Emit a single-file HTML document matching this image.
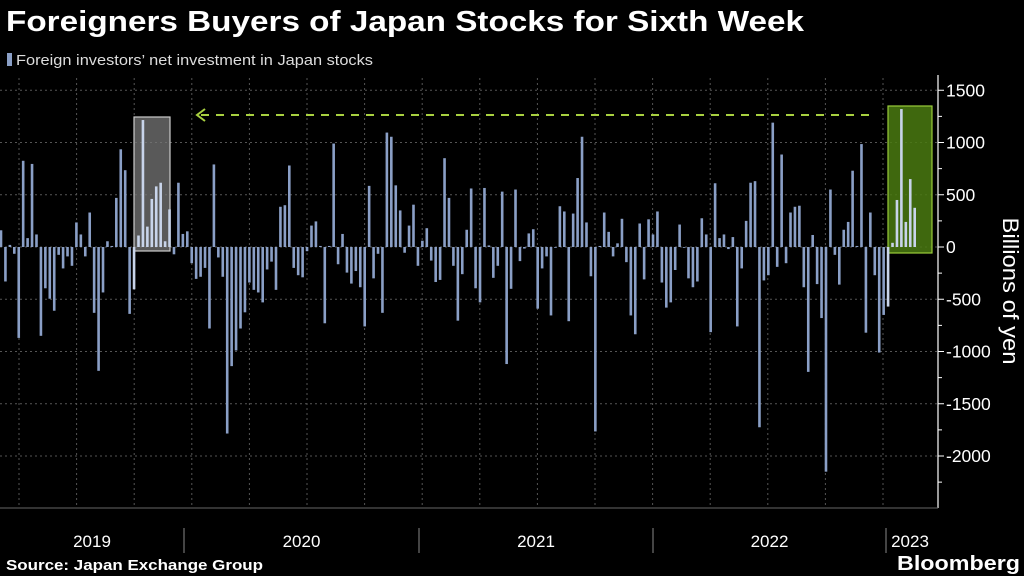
<!DOCTYPE html>
<html><head><meta charset="utf-8">
<style>
body{margin:0;background:#000;width:1024px;height:576px;overflow:hidden;font-family:"Liberation Sans",sans-serif;}
svg{position:absolute;left:0;top:0}
</style></head>
<body>
<svg id="chart" width="1024" height="576" xmlns="http://www.w3.org/2000/svg">
<text x="6" y="31" fill="#fff" font-size="29" font-weight="bold" textLength="798" lengthAdjust="spacingAndGlyphs" font-family="Liberation Sans, sans-serif">Foreigners Buyers of Japan Stocks for Sixth Week</text>
<rect x="7" y="53" width="5" height="13" fill="#8a9fc6"/>
<text x="16" y="65" fill="#ddd" font-size="15" textLength="357" lengthAdjust="spacingAndGlyphs">Foreign investors’ net investment in Japan stocks</text>
<g id="grid"></g>
<rect x="134" y="117" width="36" height="134" fill="#777" fill-opacity="0.75" stroke="#ccc" stroke-width="1.2"/>
<rect x="888" y="106" width="44" height="147" fill="#4a7a10" fill-opacity="0.85" stroke="#9acc3a" stroke-width="1.2"/>
<line x1="201" y1="115" x2="871" y2="115" stroke="#a8d040" stroke-width="2" stroke-dasharray="8,7"/>
<polyline points="205,109 197,115 205,121" fill="none" stroke="#a8d040" stroke-width="2"/>
<g id="bars"></g>
<g id="yaxis"></g>
<text transform="translate(1003,291) rotate(90)" text-anchor="middle" fill="#fff" font-size="22" textLength="147" lengthAdjust="spacingAndGlyphs">Billions of yen</text>
<line x1="0" y1="508" x2="938" y2="508" stroke="#666" stroke-width="1"/>
<g id="xaxis"></g>
<text x="6" y="570" fill="#fff" font-size="15" font-weight="bold" textLength="257" lengthAdjust="spacingAndGlyphs">Source: Japan Exchange Group</text>
<text x="897" y="570" fill="#fff" font-size="20" font-weight="bold" textLength="123" lengthAdjust="spacingAndGlyphs">Bloomberg</text>
</svg>
<script>
const values = [160,-330,20,-65,-870,825,85,795,120,-850,-395,-495,-610,-75,-205,-90,-180,235,120,-90,330,-630,-1185,-435,55,10,470,935,735,-640,-405,110,1215,195,460,580,615,
55,360,-70,615,125,150,-155,-305,-285,-200,-780,790,-100,-285,-1785,-1140,-990,-780,-625,-340,-410,-435,-530,-215,-140,-410,385,400,780,-200,-270,-290,-40,205,245,
10,-730,10,990,-165,125,-245,-350,-230,-385,-760,585,-300,-65,-630,1095,1055,590,350,-55,205,405,-180,60,180,-130,-335,-315,850,470,-180,-705,-260,165,
560,-395,-530,565,15,-295,-180,530,-1120,-400,550,-135,-15,130,170,-590,-205,-90,-655,0,390,340,-710,320,660,1055,235,-280,-1765,10,330,145,-90,35,270,
-145,-655,-835,225,-310,265,120,340,-340,-580,-530,-220,215,0,-300,-385,-330,275,120,-815,610,85,120,-20,95,-760,-205,250,615,630,-1725,-320,-270,1190,-190,
885,-155,330,385,395,-385,-1195,115,-355,-680,-2150,550,-75,-360,165,240,730,10,985,-820,330,-270,-1010,-650,-570,40,450,1320,240,650,375];
const yTicks = [1500,1000,500,0,-500,-1000,-1500,-2000];
const yearLabels = ["2019","2020","2021","2022","2023"];
const yearBounds = [-50,184,419,653,886,1000];

const NS="http://www.w3.org/2000/svg";
const y = v => 247 - v*0.1045;
const x = i => 1 + i*(913.7/(values.length-1));
function mk(tag,attrs,parent){const e=document.createElementNS(NS,tag);for(const k in attrs)e.setAttribute(k,attrs[k]);parent.appendChild(e);return e;}

const grid=document.getElementById('grid');
yTicks.forEach(t=>{
  const l=mk('line',{x1:0,x2:938,y1:y(t),y2:y(t),stroke:'#555','stroke-dasharray':'2,3','stroke-width':1},grid);
  
  
});
for(let k=0;k<16;k++){
  const gx=19+k*57.6;
  const l=mk('line',{x1:gx,x2:gx,y1:78,y2:508,stroke:'#555','stroke-dasharray':'2,3','stroke-width':1},grid);
  
  
}

const bars=document.getElementById('bars');
values.forEach((v,i)=>{
  const bx=x(i);
  const hl=(bx>134&&bx<170)||(bx>888);
  const r=mk('rect',{x:bx-1.3,width:2.6,y:Math.min(y(v),y(0)),height:Math.max(0.8,Math.abs(y(v)-y(0))),fill:hl?'#c8d4ea':'#8a9fc6'},bars);
  
  
});

const ya=document.getElementById('yaxis');
const al=mk('line',{x1:938,x2:938,y1:75,y2:508,stroke:'#fff','stroke-width':1.2},ya);


for(let v=1500;v>=-2250;v-=250){
  const tk=mk('line',{x1:938,x2:v%500===0?944:942,y1:y(v),y2:y(v),stroke:'#fff','stroke-width':1},ya);
  
  
}
yTicks.forEach(t=>{
  const tx=mk('text',{x:946,y:y(t)+6,fill:'#fff','font-size':17.5},ya);
  tx.textContent=String(t);
  
  
});

const xa=document.getElementById('xaxis');
for(let k=1;k<5;k++){
  const s=mk('line',{x1:yearBounds[k],x2:yearBounds[k],y1:528,y2:553,stroke:'#888','stroke-width':1},xa);
  
  
}
yearLabels.forEach((lab,k)=>{
  let cx=(Math.max(0,yearBounds[k])+Math.min(935,yearBounds[k+1]))/2;
  if(k===4) cx=910;
  const t=mk('text',{x:cx,y:547,fill:'#fff','font-size':17,'text-anchor':'middle'},xa);
  t.textContent=lab;
  
  
});
</script>
</body></html>
